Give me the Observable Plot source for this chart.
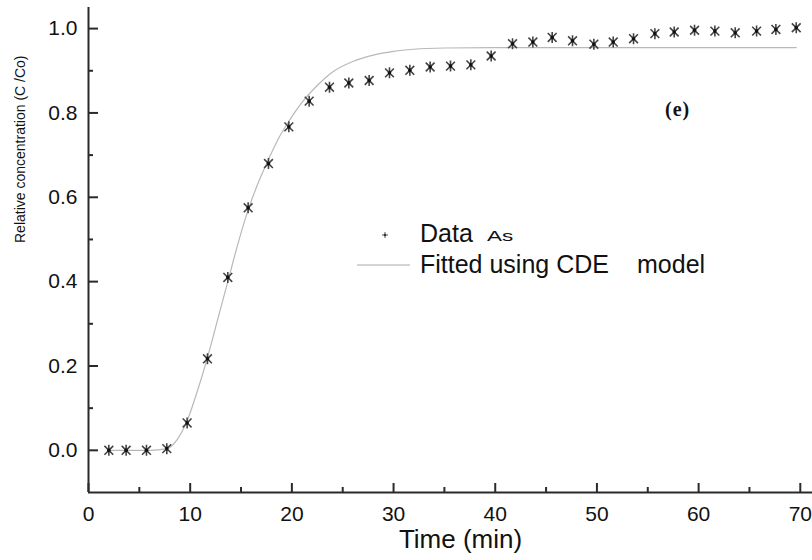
<!DOCTYPE html>
<html><head><meta charset="utf-8">
<script src="https://cdn.jsdelivr.net/npm/d3@7"></script>
<script src="https://cdn.jsdelivr.net/npm/@observablehq/plot@0.6"></script>
<style>
body{margin:0;background:#fff;}
#wrap{position:relative;width:812px;height:560px;font-family:Arial,"Liberation Sans",sans-serif;color:#111;}
.lg{position:absolute;white-space:pre;line-height:1;color:#111;}
</style></head><body><div id="wrap"></div>
<script>
// Measured data (Time in min, relative concentration C/Co)
const timeMin = [2, 3.7, 5.7, 7.7, 9.7, 11.7, 13.7, 15.7, 17.7, 19.7, 21.7, 23.7, 25.6, 27.6, 29.6, 31.6, 33.6, 35.6, 37.6, 39.6, 41.7, 43.7, 45.6, 47.6, 49.7, 51.6, 53.6, 55.7, 57.6, 59.6, 61.6, 63.6, 65.7, 67.6, 69.6];
const relConc = [0, 0, 0, 0.004, 0.065, 0.217, 0.41, 0.575, 0.68, 0.767, 0.828, 0.861, 0.871, 0.877, 0.895, 0.901, 0.909, 0.911, 0.914, 0.935, 0.964, 0.968, 0.979, 0.971, 0.963, 0.968, 0.976, 0.988, 0.992, 0.996, 0.994, 0.99, 0.994, 0.998, 1.002];
// Fitted CDE model curve
const fitTime = [2, 4, 6, 7.7, 8.7, 9.7, 10.7, 11.7, 12.7, 13.7, 14.7, 15.7, 16.7, 17.7, 18.7, 19.7, 21, 22.5, 24, 26, 28, 30, 32, 35, 40, 50, 60, 69.6];
const fitConc = [0, 0, 0, 0.004, 0.025, 0.07, 0.14, 0.22, 0.31, 0.40, 0.49, 0.57, 0.635, 0.69, 0.74, 0.78, 0.825, 0.865, 0.897, 0.922, 0.937, 0.946, 0.951, 0.954, 0.955, 0.955, 0.955, 0.955];
// Axis ticks
const xTicks = [0, 10, 20, 30, 40, 50, 60, 70];
const xMinorTicks = [5, 15, 25, 35, 45, 55, 65];
const yTicks = [0, 0.2, 0.4, 0.6, 0.8, 1.0];
const yMinorTicks = [0.1, 0.3, 0.5, 0.7, 0.9];
const xDomain = [0, 71.2];
const yDomain = [-0.1, 1.05];

const data = timeMin.map((t, i) => ({t, c: relConc[i]}));
const fit = fitTime.map((t, i) => ({t, c: fitConc[i]}));

const W = 812, H = 560, mL = 88, mR = 0, mT = 7, mB = 68;
const frameW = W - mL - mR, frameH = H - mT - mB;
// convert a pixel tick length into data units along each axis
const xPerPx = (xDomain[1] - xDomain[0]) / frameW;
const yPerPx = (yDomain[1] - yDomain[0]) / frameH;

const star = {draw(ctx, size) {
  const r = Math.sqrt(size / Math.PI), d = r * 0.8;
  ctx.moveTo(0, -r); ctx.lineTo(0, r);
  ctx.moveTo(-d, -d); ctx.lineTo(d, d);
  ctx.moveTo(-d, d); ctx.lineTo(d, -d);
}};
const axisColor = "#2a2a2a";

const chart = Plot.plot({
  width: W, height: H,
  marginLeft: mL, marginRight: mR, marginTop: mT, marginBottom: mB,
  x: {domain: xDomain},
  y: {domain: yDomain},
  style: {fontFamily: 'Arial, "Liberation Sans", sans-serif', background: "transparent", color: "#111"},
  marks: [
    Plot.axisX(xTicks, {tickSize: 0, tickPadding: 14, fontSize: 21, label: null, tickFormat: d => String(d)}),
    Plot.axisY(yTicks, {tickSize: 0, tickPadding: 11, fontSize: 21, label: null, tickFormat: d => d.toFixed(1)}),
    Plot.ruleX([xDomain[0]], {y1: yDomain[0], y2: yDomain[1], stroke: axisColor, strokeWidth: 2}),
    Plot.ruleY([yDomain[0]], {x1: xDomain[0], x2: xDomain[1], stroke: axisColor, strokeWidth: 2}),
    Plot.ruleY(yTicks, {y: d => d, x1: xDomain[0], x2: xDomain[0] + 10 * xPerPx, stroke: axisColor, strokeWidth: 2}),
    Plot.ruleY(yMinorTicks, {y: d => d, x1: xDomain[0], x2: xDomain[0] + 5 * xPerPx, stroke: axisColor, strokeWidth: 2}),
    Plot.ruleX(xTicks, {x: d => d, y1: yDomain[0], y2: yDomain[0] + 9 * yPerPx, stroke: axisColor, strokeWidth: 2}),
    Plot.ruleX(xMinorTicks, {x: d => d, y1: yDomain[0], y2: yDomain[0] + 5 * yPerPx, stroke: axisColor, strokeWidth: 2}),
    Plot.text(["Time (min)"], {frameAnchor: "bottom", text: d => d, dx: 10, dy: 47, fontSize: 26, lineAnchor: "middle", fill: "#111"}),
    Plot.text(["Relative concentration (C /Co)"], {frameAnchor: "left", text: d => d, rotate: -90, dx: -68, dy: -7, fontSize: 14, lineAnchor: "middle", fill: "#111"}),
    Plot.line(fit, {x: "t", y: "c", curve: "monotone-x", stroke: "#b8b8b8", strokeWidth: 1.2}),
    Plot.dot(data, {x: "t", y: "c", symbol: star, r: 5.5, stroke: "#444", strokeWidth: 1.6, fill: "none"}),
    Plot.dot(data, {x: "t", y: "c", r: 1.8, fill: "#111", stroke: "none"})
  ]
});
chart.style.position = "absolute";
chart.style.left = "0px";
chart.style.top = "0px";
const wrap = document.getElementById("wrap");
wrap.appendChild(chart);

// Legend and panel label overlay
const legendHTML = `
<svg style="position:absolute;left:0;top:0;overflow:visible" width="812" height="560">
  <g stroke="#555" stroke-width="1">
    <line x1="382" y1="235" x2="388" y2="235"/><line x1="385" y1="232" x2="385" y2="238"/>
  </g>
  <circle cx="385" cy="235" r="1.2" fill="#333"/>
  <line x1="357" y1="265" x2="410" y2="265" stroke="#aaa" stroke-width="1.2"/>
</svg>
<div class="lg" style="left:420px;top:221px;font-size:25px;">Data</div>
<div class="lg" style="left:487px;top:228px;font-size:15px;transform:scaleX(1.5);transform-origin:left top;">As</div>
<div class="lg" style="left:420px;top:252px;font-size:25px;">Fitted using CDE</div>
<div class="lg" style="left:637px;top:252px;font-size:25px;">model</div>
<div class="lg" style="left:665px;top:99px;font-size:20px;font-weight:bold;font-family:'Liberation Serif','DejaVu Serif',serif;letter-spacing:1px;">(e)</div>
`;
wrap.insertAdjacentHTML("beforeend", legendHTML);
</script>
</body></html>
